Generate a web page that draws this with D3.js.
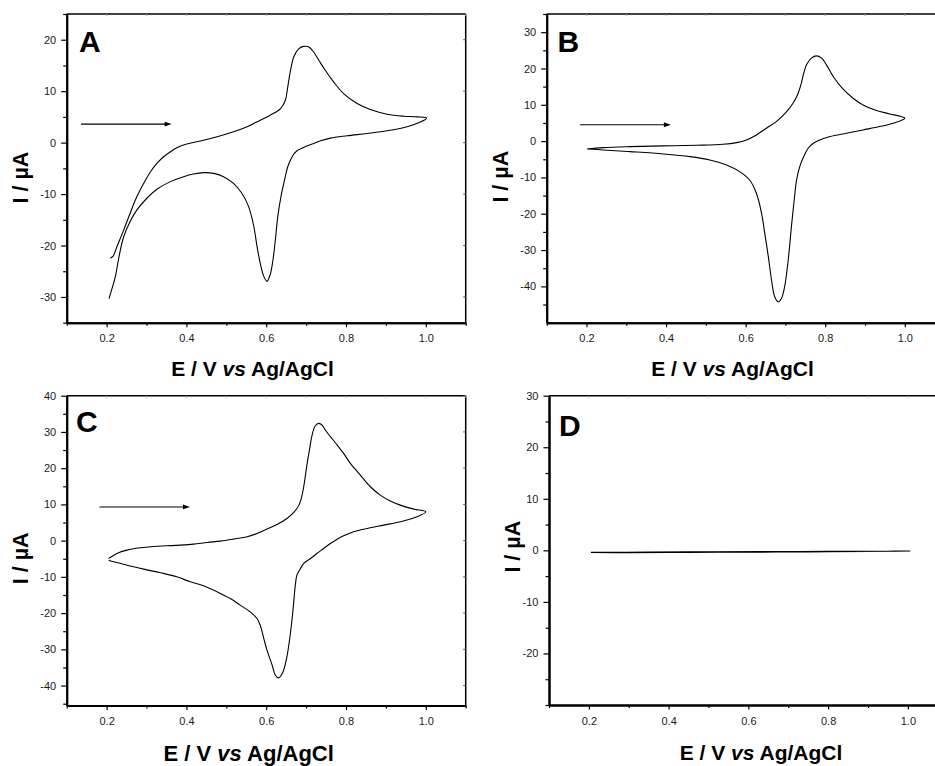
<!DOCTYPE html>
<html>
<head>
<meta charset="utf-8">
<script src="https://cdn.jsdelivr.net/npm/d3@7"></script>
<style>
  html, body { margin: 0; padding: 0; background: #fff; }
  svg { display: block; font-family: "Liberation Sans", Arial, Helvetica, sans-serif; }
</style>
</head>
<body>
<svg id="chart" width="935" height="766"></svg>
<script>
// ---- Cyclic voltammograms: potential E (V vs Ag/AgCl) and current I (µA) ----

// Panel A
const scanA_fwdE = [0.209,0.216,0.226,0.243,0.259,0.276,0.293,0.310,0.326,0.343,0.360,0.376,0.401,0.435,0.477,0.518,0.552,0.585,0.610,0.636,0.648,0.654,0.661,0.669,0.682,0.694,0.707,0.719,0.732,0.748,0.769,0.794,0.828,0.861,0.903,0.945,0.978,1.002];
const scanA_fwdI = [-22.44,-22.1,-20.18,-16.95,-13.72,-10.49,-7.91,-5.65,-4.03,-2.74,-1.77,-0.99,-0.28,0.30,1.14,2.11,3.08,4.37,5.34,6.63,8.24,10.83,14.06,16.64,18.26,18.71,18.58,17.61,16.0,14.06,11.80,9.53,7.60,6.43,5.53,5.14,5.01,4.75];
const scanA_revE = [0.982,0.953,0.903,0.853,0.803,0.761,0.736,0.715,0.694,0.677,0.665,0.654,0.646,0.637,0.629,0.623,0.617,0.610,0.602,0.594,0.585,0.577,0.569,0.556,0.539,0.518,0.493,0.468,0.443,0.418,0.393,0.360,0.326,0.301,0.276,0.259,0.243,0.232,0.222,0.209,0.206];
const scanA_revI = [3.85,3.08,2.30,1.78,1.33,0.88,0.36,-0.28,-0.93,-1.58,-2.74,-4.68,-7.26,-10.49,-14.37,-18.89,-22.77,-25.67,-26.96,-26.0,-23.41,-20.18,-16.30,-12.43,-9.84,-7.91,-6.62,-5.97,-5.84,-6.10,-6.62,-7.58,-9.07,-10.81,-13.07,-15.34,-18.24,-21.80,-26.0,-29.55,-30.32];

// Panel B
const scanB_fwdE = [0.202,0.242,0.309,0.393,0.476,0.543,0.577,0.602,0.627,0.652,0.677,0.703,0.719,0.732,0.740,0.746,0.753,0.765,0.778,0.791,0.803,0.820,0.845,0.870,0.895,0.929,0.962,1.000];
const scanB_fwdI = [-2.15,-1.78,-1.51,-1.32,-1.14,-0.87,-0.41,0.33,1.71,3.55,5.38,8.14,10.43,13.19,15.94,18.70,21.0,22.83,23.48,22.83,21.0,17.78,14.29,11.81,9.97,8.41,7.49,6.30];
const scanB_revE = [0.971,0.937,0.895,0.853,0.812,0.786,0.770,0.757,0.746,0.736,0.728,0.722,0.715,0.707,0.698,0.690,0.682,0.673,0.665,0.657,0.648,0.640,0.627,0.610,0.585,0.552,0.510,0.460,0.393,0.309,0.242,0.202];
const scanB_revI = [4.92,4.0,3.08,2.17,1.25,0.33,-0.59,-1.97,-4.26,-7.02,-10.70,-16.21,-23.56,-32.74,-40.09,-43.31,-44.23,-42.85,-38.25,-31.82,-25.39,-19.88,-14.37,-10.70,-8.40,-6.56,-5.18,-4.26,-3.53,-2.89,-2.43,-2.15];

// Panel C
const scanC_fwdE = [0.205,0.226,0.251,0.284,0.318,0.351,0.385,0.418,0.452,0.485,0.518,0.552,0.577,0.602,0.627,0.652,0.669,0.682,0.690,0.696,0.702,0.709,0.715,0.723,0.732,0.740,0.748,0.761,0.778,0.794,0.811,0.836,0.861,0.886,0.911,0.936,0.970,1.000];
const scanC_fwdI = [-4.93,-3.54,-2.62,-1.98,-1.61,-1.43,-1.24,-0.97,-0.51,-0.14,0.41,1.06,1.98,3.18,4.46,6.12,7.78,9.80,12.57,16.25,20.85,25.45,29.14,31.71,32.36,31.90,30.52,28.68,26.38,24.07,21.31,18.09,14.87,12.57,10.91,9.80,8.70,7.96];
const scanC_revE = [0.978,0.936,0.895,0.853,0.819,0.794,0.778,0.761,0.744,0.727,0.711,0.694,0.686,0.677,0.673,0.669,0.665,0.659,0.651,0.642,0.631,0.623,0.615,0.602,0.594,0.585,0.577,0.560,0.535,0.510,0.477,0.443,0.410,0.376,0.335,0.293,0.251,0.218,0.205];
const scanC_revI = [6.58,5.20,4.28,3.36,2.44,1.33,0.41,-0.78,-2.16,-3.54,-4.93,-6.31,-7.69,-9.53,-12.29,-16.89,-21.50,-27.02,-32.54,-36.23,-37.88,-37.15,-34.38,-30.24,-27.02,-23.34,-21.50,-19.66,-17.81,-15.97,-14.13,-12.47,-11.37,-9.99,-8.88,-7.87,-6.77,-5.85,-5.39];

// Panel D (blank electrode, almost no current)
const scanD_fwdE = [0.205,0.35,0.5,0.65,0.8,0.95,1.005];
const scanD_fwdI = [-0.40,-0.33,-0.27,-0.22,-0.20,-0.17,-0.12];
const scanD_revE = [1.005,0.9,0.75,0.6,0.45,0.3,0.205];
const scanD_revI = [-0.12,-0.22,-0.30,-0.35,-0.40,-0.45,-0.42];

// Scan-direction arrows (start/end in E, I)
const arrowA = [[0.136, 3.6], [0.363, 3.6]];
const arrowB = [[0.184, 4.5], [0.412, 4.5]];
const arrowC = [[0.182, 9.3], [0.409, 9.3]];

// Axis ticks
const xMajorTicks = [0.2, 0.4, 0.6, 0.8, 1.0];
const xMinorTicks = [0.1, 0.3, 0.5, 0.7, 0.9, 1.1];
const yMajorA = [-30, -20, -10, 0, 10, 20];
const yMinorA = [-35, -25, -15, -5, 5, 15, 25];
const yMajorB = [-40, -30, -20, -10, 0, 10, 20, 30];
const yMinorB = [-45, -35, -25, -15, -5, 5, 15, 25, 35];
const yMajorC = [-40, -30, -20, -10, 0, 10, 20, 30, 40];
const yMinorC = [-45, -35, -25, -15, -5, 5, 15, 25, 35];
const yMajorD = [-20, -10, 0, 10, 20, 30];
const yMinorD = [-30, -25, -15, -5, 5, 15, 25];

const panelLetters = ["A", "B", "C", "D"];
const xTitleMain = "E / V ";
const xTitleItalic = "vs";
const xTitleTail = " Ag/AgCl";
const yTitle = "I / µA";

// ---- layout ----
const panels = [
  { letter: panelLetters[0], box: [66.7, 465.7, 14, 322.7], yDom: [-35, 25],
    yMajor: yMajorA, yMinor: yMinorA,
    fwd: [scanA_fwdE, scanA_fwdI], rev: [scanA_revE, scanA_revI], arrow: arrowA,
    letterPos: [79, 52.3], xTitle: [252.5, 376, 21], yTitle: [28.3, 177.5] },
  { letter: panelLetters[1], box: [546.7, 944.6, 14, 322.7], yDom: [-50, 35],
    yMajor: yMajorB, yMinor: yMinorB,
    fwd: [scanB_fwdE, scanB_fwdI], rev: [scanB_revE, scanB_revI], arrow: arrowB,
    letterPos: [557.5, 51.7], xTitle: [732.5, 376, 21], yTitle: [507.5, 176.7] },
  { letter: panelLetters[2], box: [66.7, 465.7, 395.7, 705.5], yDom: [-45.5, 40],
    yMajor: yMajorC, yMinor: yMinorC,
    fwd: [scanC_fwdE, scanC_fwdI], rev: [scanC_revE, scanC_revI], arrow: arrowC,
    letterPos: [76, 431.7], xTitle: [248.7, 760.5, 22], yTitle: [28.3, 558.3] },
  { letter: panelLetters[3], box: [549, 947.75, 395.7, 705], yDom: [-30, 30],
    yMajor: yMajorD, yMinor: yMinorD,
    fwd: [scanD_fwdE, scanD_fwdI], rev: [scanD_revE, scanD_revI], arrow: null,
    letterPos: [559, 436], xTitle: [761, 760, 21], yTitle: [520, 546.7] }
];

const svg = d3.select("#chart");
const tickColor = "#1a1a1a";
const fmtX = d => d.toFixed(1);
const fmtY = d => String(d);   // plain hyphen-minus for negatives

panels.forEach(p => {
  const [L, R, T, B] = p.box;
  const x = d3.scaleLinear().domain([0.1, 1.1]).range([L, R]);
  const y = d3.scaleLinear().domain(p.yDom).range([B, T]);
  const g = svg.append("g");

  // frame: top and right (thin), with small inward mirror ticks
  g.append("line").attr("x1", L).attr("x2", R).attr("y1", T).attr("y2", T)
    .attr("stroke", "#000").attr("stroke-width", 1.5);
  g.append("line").attr("x1", R).attr("x2", R).attr("y1", T).attr("y2", B)
    .attr("stroke", "#000").attr("stroke-width", 1.5);
  g.selectAll(".tt").data(xMajorTicks.concat(xMinorTicks)).enter().append("line")
    .attr("x1", d => x(d)).attr("x2", d => x(d)).attr("y1", T).attr("y2", T + 2)
    .attr("stroke", "#999").attr("stroke-width", 1);
  g.selectAll(".rt").data(p.yMajor).enter().append("line")
    .attr("x1", R).attr("x2", R - 2.5).attr("y1", d => y(d)).attr("y2", d => y(d))
    .attr("stroke", "#555").attr("stroke-width", 1);

  // bottom axis
  const xMinor = d3.axisBottom(x).tickValues(xMinorTicks).tickSize(3).tickSizeOuter(0).tickFormat("");
  const xMajor = d3.axisBottom(x).tickValues(xMajorTicks).tickSize(4.5).tickSizeOuter(0)
    .tickPadding(7.5).tickFormat(fmtX);
  const gxm = g.append("g").attr("transform", `translate(0,${B})`).call(xMinor);
  const gx = g.append("g").attr("transform", `translate(0,${B})`).call(xMajor);
  [gxm, gx].forEach(a => {
    a.select(".domain").attr("stroke", "#000").attr("stroke-width", 2);
    a.selectAll(".tick line").attr("stroke", "#000").attr("stroke-width", 1.2);
  });
  gx.selectAll("text").attr("font-size", 11).attr("fill", tickColor)
    .attr("font-family", "'Liberation Sans', Arial, sans-serif");

  // left axis
  const yMinor = d3.axisLeft(y).tickValues(p.yMinor).tickSize(3.5).tickSizeOuter(0).tickFormat("");
  const yMajor = d3.axisLeft(y).tickValues(p.yMajor).tickSize(5.5).tickSizeOuter(0)
    .tickPadding(5).tickFormat(fmtY);
  const gym = g.append("g").attr("transform", `translate(${L},0)`).call(yMinor);
  const gy = g.append("g").attr("transform", `translate(${L},0)`).call(yMajor);
  [gym, gy].forEach(a => {
    a.select(".domain").attr("stroke", "#000").attr("stroke-width", 2);
    a.selectAll(".tick line").attr("stroke", "#000").attr("stroke-width", 1.2);
  });
  gy.selectAll("text").attr("font-size", 11).attr("fill", tickColor)
    .attr("font-family", "'Liberation Sans', Arial, sans-serif");

  // voltammogram: forward then reverse sweep as one closed trace
  const pts = p.fwd[0].map((e, i) => [e, p.fwd[1][i]])
    .concat(p.rev[0].map((e, i) => [e, p.rev[1][i]]));
  const line = d3.line().x(d => x(d[0])).y(d => y(d[1])).curve(d3.curveCatmullRom.alpha(0.5));
  g.append("path").datum(pts).attr("d", line)
    .attr("fill", "none").attr("stroke", "#000").attr("stroke-width", 1.1)
    .attr("stroke-linejoin", "round");

  // scan direction arrow
  if (p.arrow) {
    const [a0, a1] = p.arrow;
    const x0 = x(a0[0]), x1 = x(a1[0]), yy = y(a0[1]);
    g.append("line").attr("x1", x0).attr("x2", x1 - 5).attr("y1", yy).attr("y2", yy)
      .attr("stroke", "#000").attr("stroke-width", 1.1);
    g.append("path")
      .attr("d", `M${x1},${yy} L${x1 - 7},${yy - 2.4} L${x1 - 7},${yy + 2.4} Z`)
      .attr("fill", "#000");
  }

  // panel letter
  g.append("text").attr("x", p.letterPos[0]).attr("y", p.letterPos[1])
    .attr("font-size", 30).attr("font-weight", "bold").attr("fill", "#000")
    .text(p.letter);

  // x-axis title
  const xt = g.append("text").attr("x", p.xTitle[0]).attr("y", p.xTitle[1])
    .attr("text-anchor", "middle").attr("font-size", p.xTitle[2])
    .attr("font-weight", "bold").attr("fill", "#000");
  xt.append("tspan").text(xTitleMain);
  xt.append("tspan").attr("font-style", "italic").text(xTitleItalic);
  xt.append("tspan").text(xTitleTail);

  // y-axis title
  g.append("text")
    .attr("transform", `translate(${p.yTitle[0]},${p.yTitle[1]}) rotate(-90)`)
    .attr("text-anchor", "middle").attr("font-size", 21.5)
    .attr("font-weight", "bold").attr("fill", "#000")
    .text(yTitle);
});
</script>
</body>
</html>
